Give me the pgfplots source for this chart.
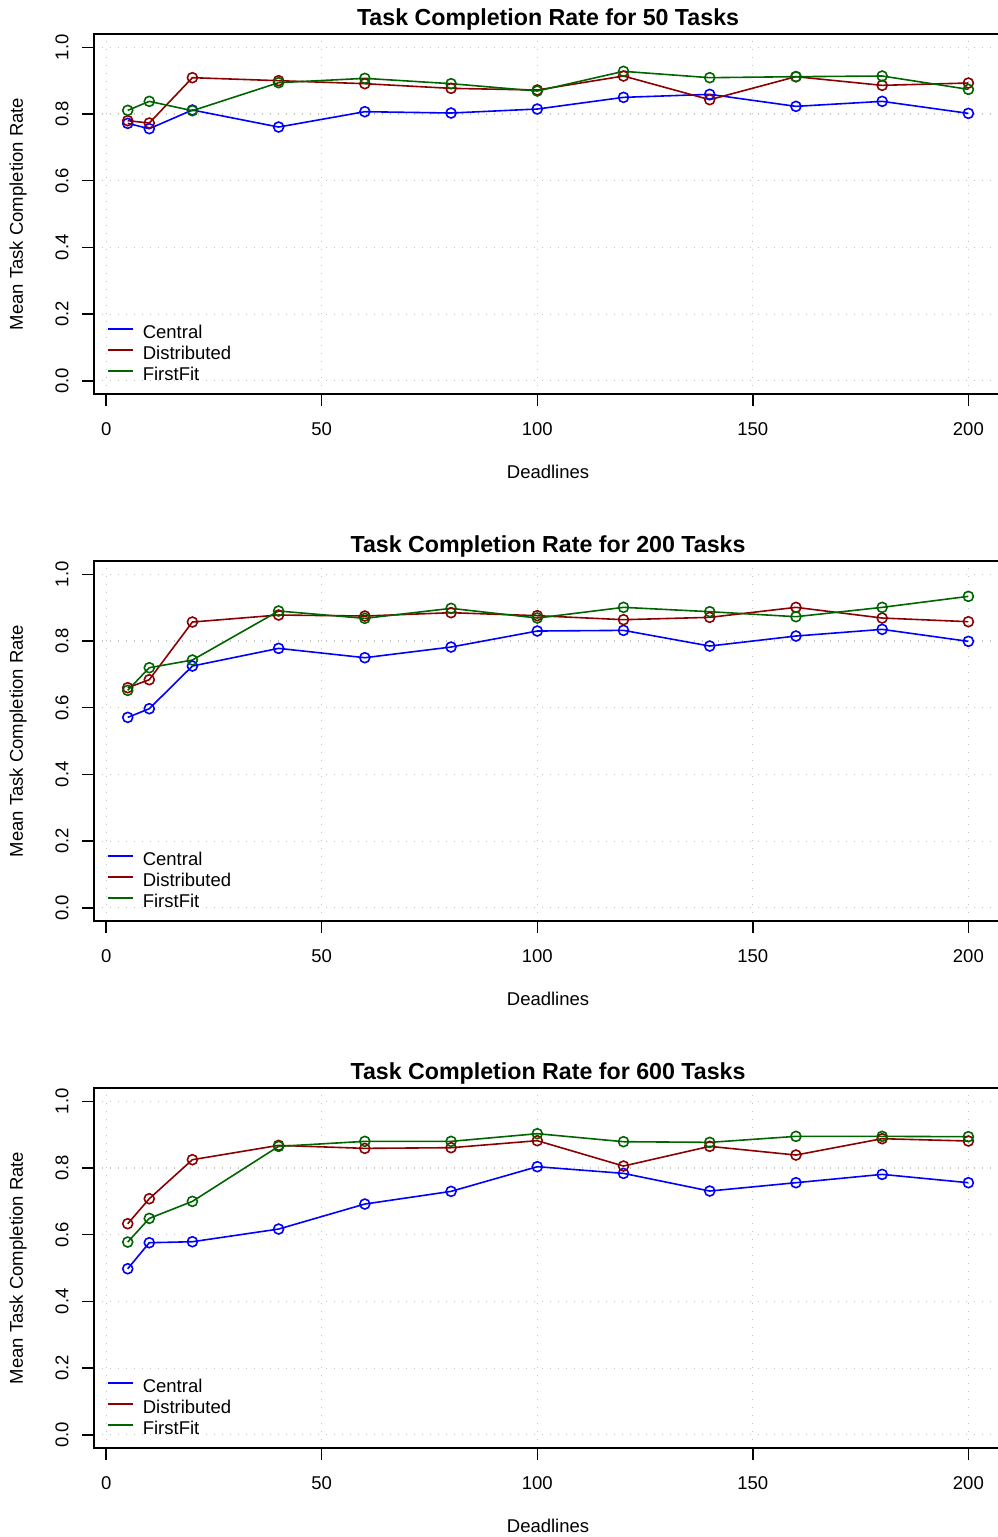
\documentclass[border=0pt]{standalone}
\usepackage{fontspec}
\setmainfont{Liberation Sans}
\usepackage{pgfplots}
\usepackage{pgfplotstable}
\pgfplotsset{compat=1.18}
\definecolor{rblue}{RGB}{0,0,255}
\definecolor{rred}{RGB}{139,0,0}
\definecolor{rgreen}{RGB}{0,100,0}
\definecolor{rgrid}{RGB}{195,195,195}

\pgfplotstableread{
x c d f
5 0.772 0.780 0.811
10 0.756 0.773 0.838
20 0.812 0.909 0.810
40 0.761 0.900 0.894
60 0.807 0.891 0.907
80 0.803 0.877 0.891
100 0.815 0.872 0.869
120 0.850 0.914 0.928
140 0.859 0.843 0.909
160 0.823 0.912 0.912
180 0.838 0.886 0.914
200 0.802 0.893 0.874
}\tA
\pgfplotstableread{
x c d f
5 0.571 0.660 0.652
10 0.597 0.684 0.720
20 0.725 0.857 0.743
40 0.778 0.878 0.890
60 0.750 0.875 0.868
80 0.782 0.885 0.898
100 0.830 0.876 0.869
120 0.832 0.864 0.901
140 0.785 0.871 0.888
160 0.815 0.901 0.873
180 0.835 0.869 0.901
200 0.799 0.858 0.934
}\tB
\pgfplotstableread{
x c d f
5 0.498 0.633 0.578
10 0.576 0.708 0.649
20 0.579 0.825 0.700
40 0.617 0.868 0.865
60 0.692 0.859 0.880
80 0.730 0.861 0.880
100 0.804 0.882 0.903
120 0.784 0.806 0.879
140 0.731 0.865 0.877
160 0.756 0.839 0.895
180 0.781 0.888 0.895
200 0.756 0.881 0.894
}\tC

\newcommand{\basefont}{\fontsize{18.5}{22}\selectfont}
\pgfplotsset{
  rpanel/.style={
    scale only axis, width=907.9pt, height=360.1pt,
    anchor=north west,
    xmin=-2.8, xmax=207.8, ymin=-0.04, ymax=1.04,
    xtick={0,50,100,150,200}, ytick={0,0.2,0.4,0.6,0.8,1},
    tick align=outside, tick pos=left,
    major tick length=12pt,
    every tick/.style={black, line width=1.5pt},
    axis line style={line width=1.5pt},
    grid=major,
    major grid style={rgrid, line width=1.1pt, dash pattern=on 1.2pt off 6.8pt},
    /pgf/number format/assume math mode=true,
    tick label style={font=\basefont},
    xticklabel style={anchor=base, yshift=-29pt},
    yticklabel style={rotate=90, anchor=center, yshift=20pt, /pgf/number format/.cd, fixed, fixed zerofill, precision=1},
    label style={font=\basefont},
    xlabel={Deadlines},
    ylabel={Mean Task Completion Rate},
    xlabel style={at={(axis description cs:0.5,0)}, anchor=base, yshift=-84.6pt},
    ylabel style={at={(axis description cs:-0.0837,0.5)}, anchor=center},
    title style={at={(axis description cs:0.5,1)}, anchor=base, yshift=3pt, font=\bfseries\fontsize{23.2}{27}\selectfont},
    legend style={draw=none, fill=none, at={(axis cs:0.1,-0.003)}, anchor=south west,
      font=\basefont, inner sep=0pt, row sep=6pt,
      nodes={inner sep=0pt},
      /tikz/every odd column/.append style={column sep=9pt}},
    legend cell align=left,
    legend image code/.code={\draw[#1, line width=2pt] (0pt,0.3em) -- (25pt,0.3em);},
    every axis plot/.append style={line width=1.6pt, mark=o, mark size=5pt, mark options={line width=1.6pt}},
  }
}

\begin{document}
\begin{tikzpicture}
\useasboundingbox (0,0) rectangle (998pt,-1537pt);
\begin{axis}[rpanel, at={(94.1pt,-34pt)}, title={Task Completion Rate for 50 Tasks}]
\addplot[rblue] table[x=x,y=c] {\tA};
\addplot[rred] table[x=x,y=d] {\tA};
\addplot[rgreen] table[x=x,y=f] {\tA};
\legend{Central,Distributed,FirstFit}
\end{axis}
\begin{axis}[rpanel, at={(94.1pt,-561pt)}, title={Task Completion Rate for 200 Tasks}]
\addplot[rblue] table[x=x,y=c] {\tB};
\addplot[rred] table[x=x,y=d] {\tB};
\addplot[rgreen] table[x=x,y=f] {\tB};
\legend{Central,Distributed,FirstFit}
\end{axis}
\begin{axis}[rpanel, at={(94.1pt,-1088pt)}, title={Task Completion Rate for 600 Tasks}]
\addplot[rblue] table[x=x,y=c] {\tC};
\addplot[rred] table[x=x,y=d] {\tC};
\addplot[rgreen] table[x=x,y=f] {\tC};
\legend{Central,Distributed,FirstFit}
\end{axis}
\end{tikzpicture}
\end{document}
